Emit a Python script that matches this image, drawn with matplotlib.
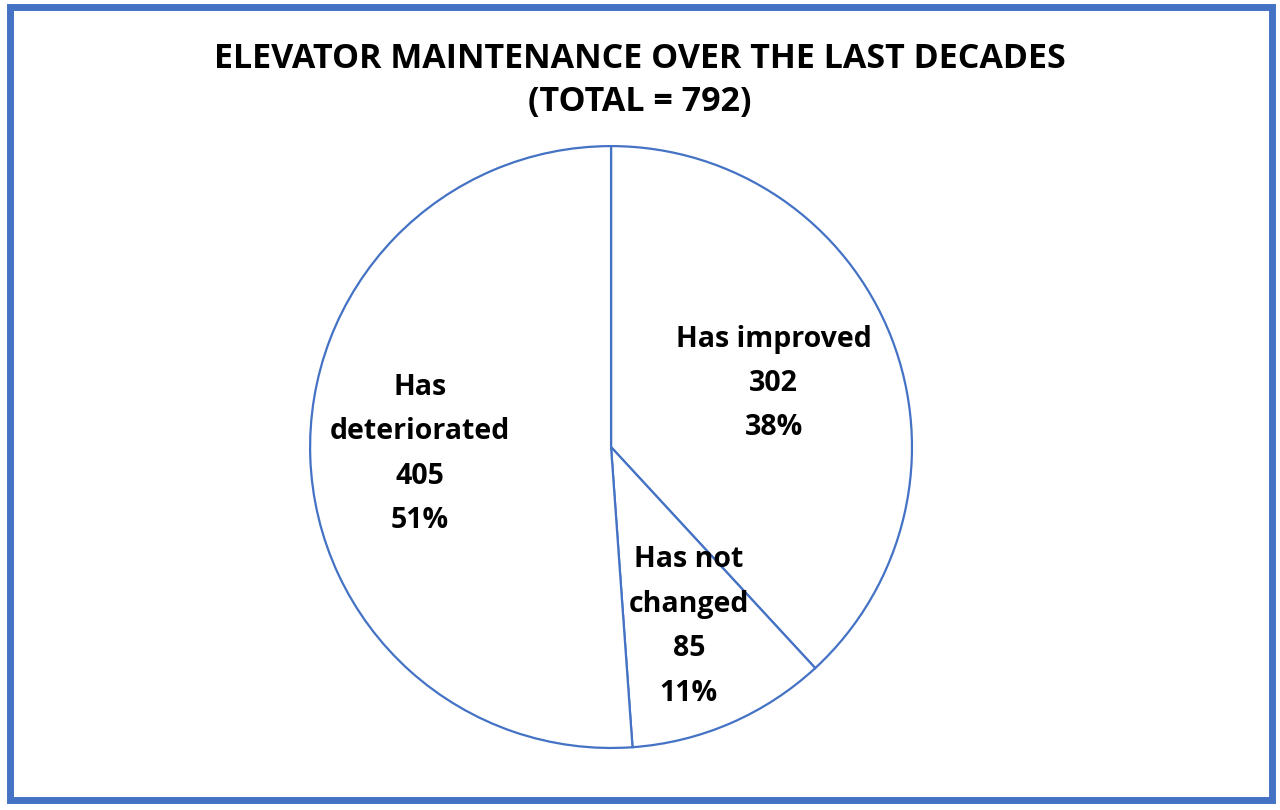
import numpy as np
import matplotlib
matplotlib.use("Agg")
import matplotlib.pyplot as plt
from matplotlib.patches import Rectangle

plt.rcParams['font.family'] = ['Open Sans', 'DejaVu Sans']

# data
categories = ["Has improved", "Has not\nchanged", "Has\ndeteriorated"]
counts = [302, 85, 405]
label_dist = [0.58, 0.65, 0.635]
total = sum(counts)

blue = "#4472C4"

fig = plt.figure(figsize=(12.8, 8.1), dpi=100)
ax = fig.add_axes([0.2305, 0.058, 0.49375, 0.7802])

wedges, _ = ax.pie(counts, startangle=90, counterclock=False,
                   colors=["white"] * 3,
                   wedgeprops=dict(edgecolor=blue, linewidth=1.6))

for w, name, n, d in zip(wedges, categories, counts, label_dist):
    ang = np.deg2rad((w.theta1 + w.theta2) / 2)
    pct = round(100 * n / total)
    ax.text(d * np.cos(ang), d * np.sin(ang), f"{name}\n{n}\n{pct}%",
            ha="center", va="center", fontsize=20.5, fontweight="bold",
            linespacing=1.7, color="black")

ax.set_xlim(-1.05, 1.05)
ax.set_ylim(-1.05, 1.05)
ax.set_aspect("equal")
ax.axis("off")

fig.text(0.5, 0.927, "ELEVATOR MAINTENANCE OVER THE LAST DECADES",
         ha="center", va="center", fontsize=24.5, fontweight="bold")
fig.text(0.5, 0.874, f"(TOTAL = {total})",
         ha="center", va="center", fontsize=24.5, fontweight="bold")

fig.patches.append(Rectangle((0.0078, 0.0123), 0.986, 0.979,
                             transform=fig.transFigure, fill=False,
                             edgecolor=blue, linewidth=5))

fig.savefig("out.png", dpi=100)
